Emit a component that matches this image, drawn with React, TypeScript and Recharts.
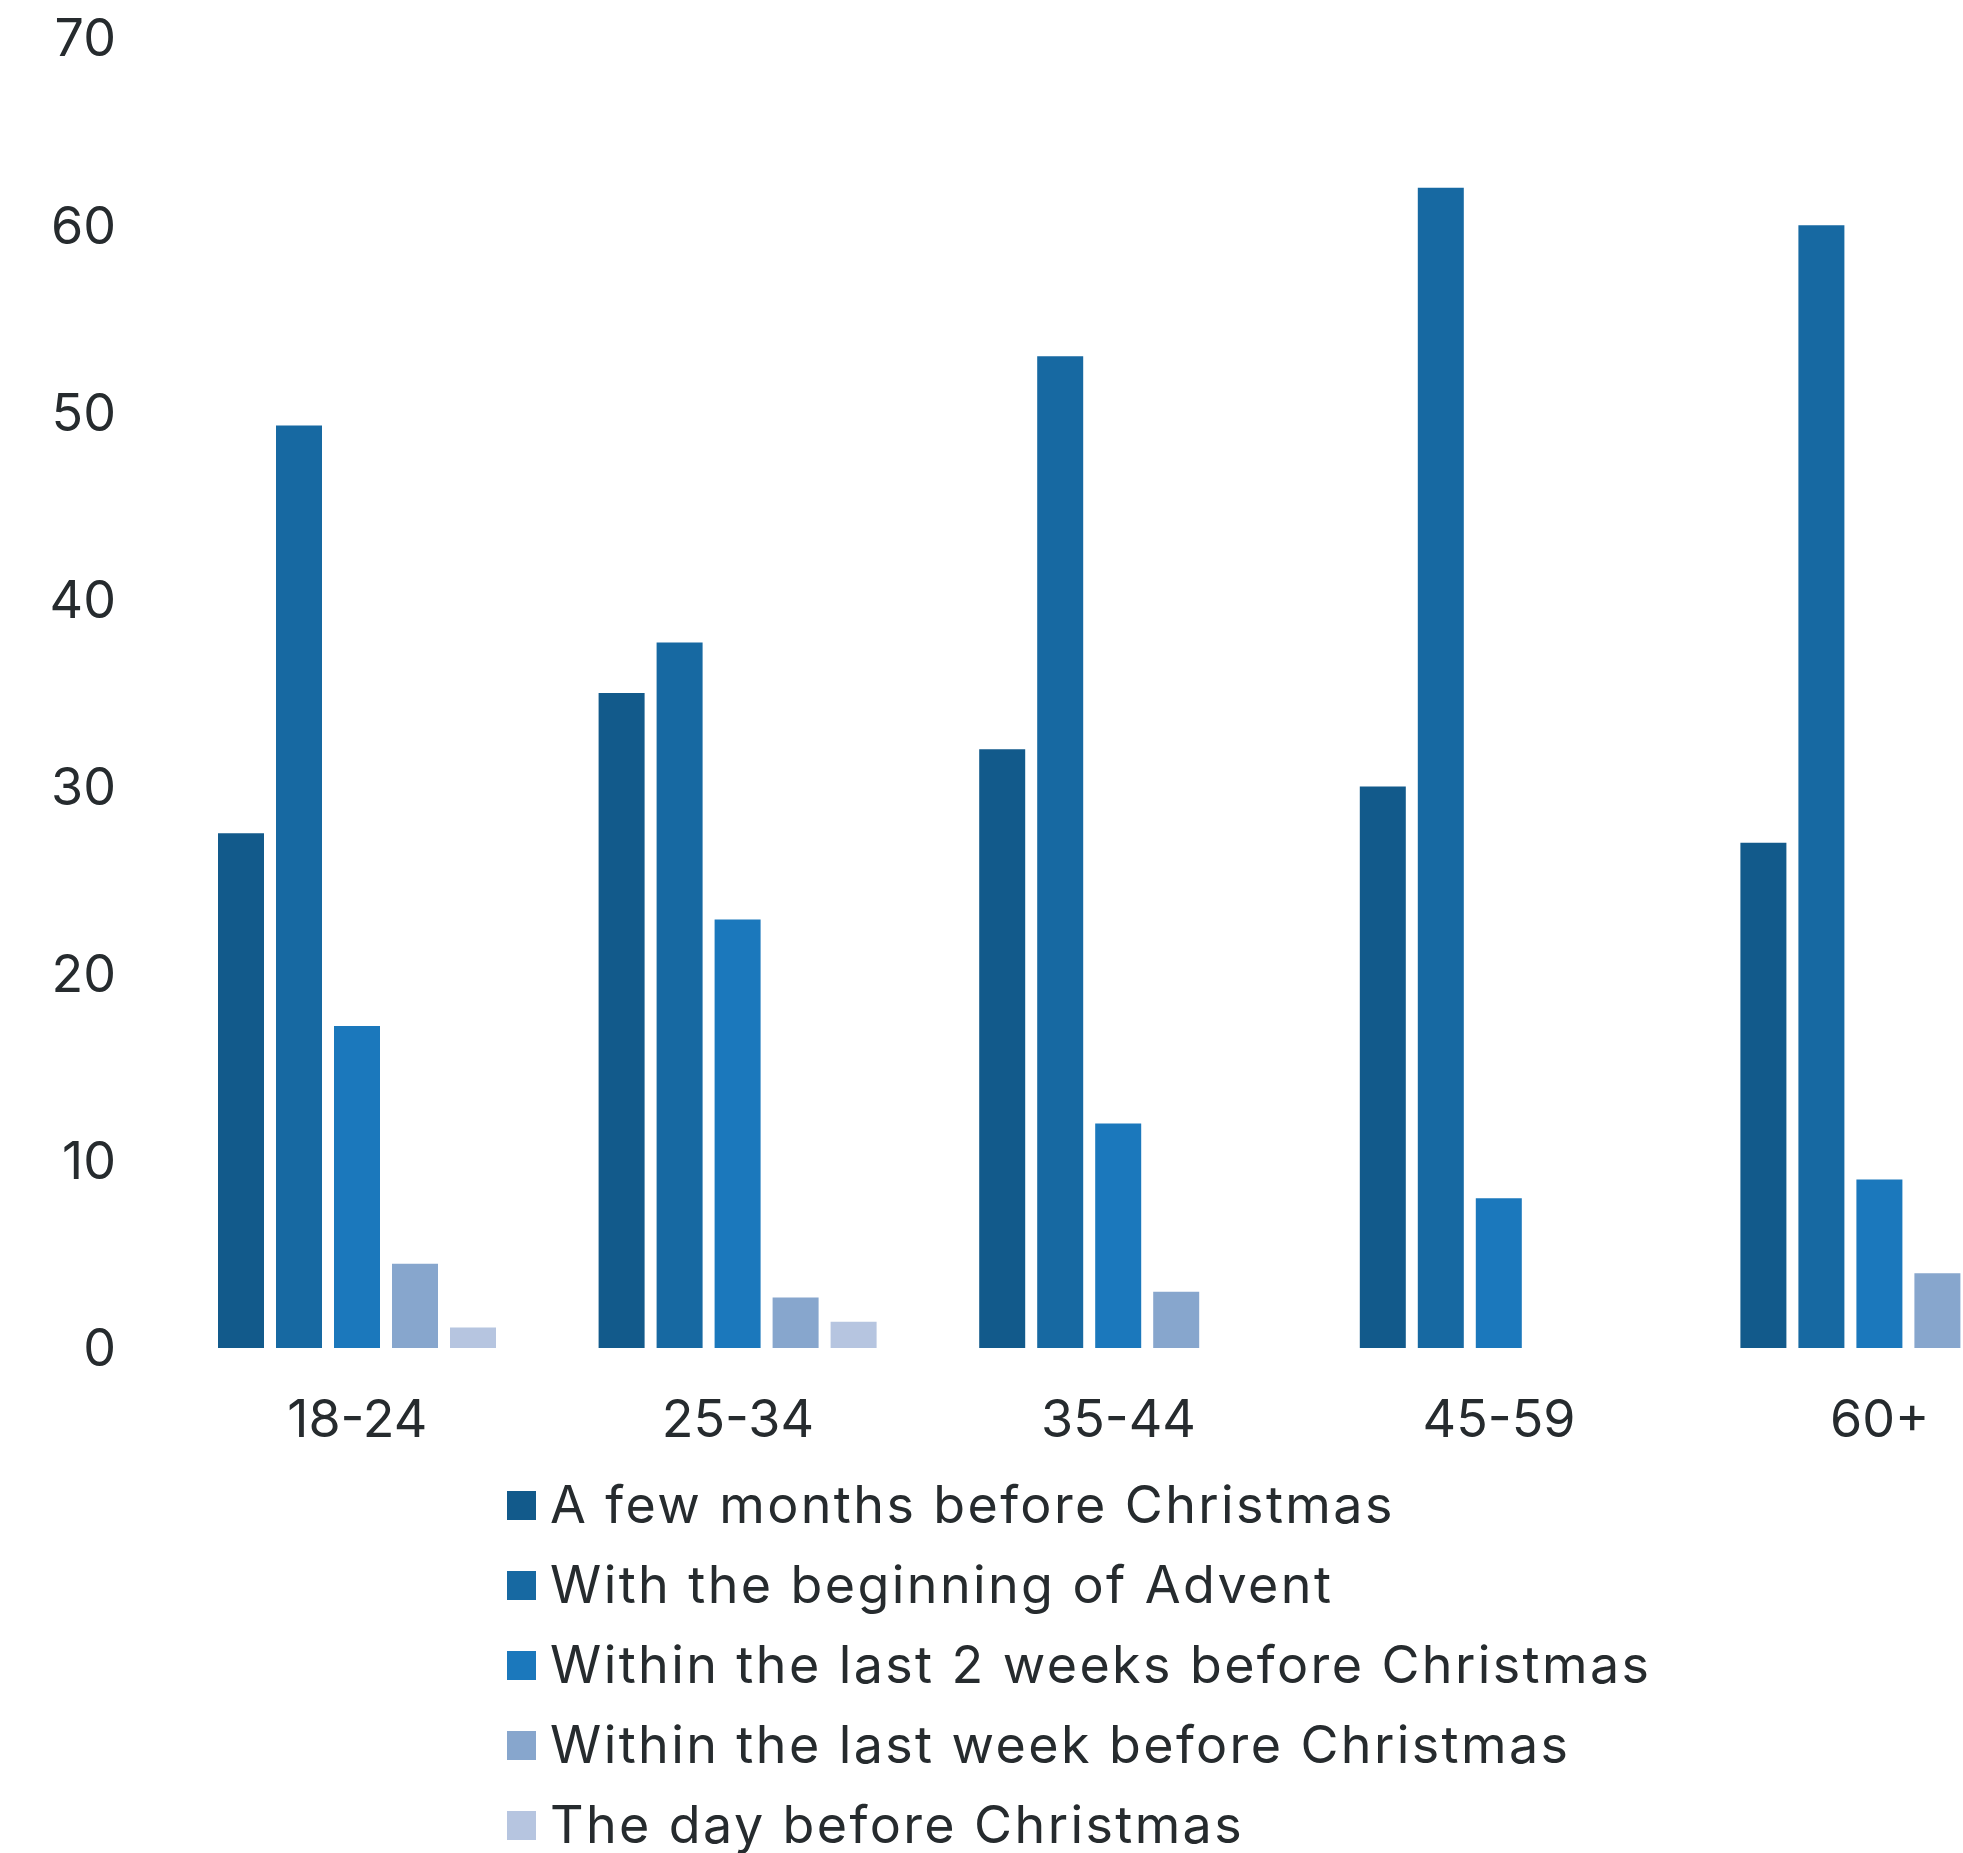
import React from 'react';
import { BarChart, Bar, XAxis, YAxis, Legend } from 'recharts';

const ageGroups = ['18-24', '25-34', '35-44', '45-59', '60+'];

const fewMonths = [27.5, 35, 32, 30, 27];
const adventStart = [49.3, 37.7, 53, 62, 60];
const lastTwoWeeks = [17.2, 22.9, 12, 8, 9];
const lastWeek = [4.5, 2.7, 3, 0, 4];
const dayBefore = [1.1, 1.4, 0, 0, 0];

const yTicks = [0, 10, 20, 30, 40, 50, 60, 70];

const series = [
    { key: 'fewMonths', name: 'A few months before Christmas', color: '#125a8b', values: fewMonths },
    { key: 'adventStart', name: 'With the beginning of Advent', color: '#1769a2', values: adventStart },
    { key: 'lastTwoWeeks', name: 'Within the last 2 weeks before Christmas', color: '#1b78bc', values: lastTwoWeeks },
    { key: 'lastWeek', name: 'Within the last week before Christmas', color: '#87a6cd', values: lastWeek },
    { key: 'dayBefore', name: 'The day before Christmas', color: '#b6c5e0', values: dayBefore },
];

const data = ageGroups.map((group, i) => {
    const row: Record<string, string | number> = { group };
    series.forEach((s) => { row[s.key] = s.values[i]; });
    return row;
});

const TEXT = '#262b2e';
const FONT = 'Inter, "Noto Sans", sans-serif';

const LegendList = () => (
    <div style={{ fontFamily: FONT }}>
        {series.map((s) => (
            <div key={s.key} style={{ display: 'flex', alignItems: 'center', height: 80 }}>
                <span style={{ width: 29, height: 29, background: s.color, marginRight: 14, flexShrink: 0 }} />
                <span style={{ fontSize: 52, letterSpacing: 2.4, color: TEXT, whiteSpace: 'nowrap', lineHeight: 1 }}>{s.name}</span>
            </div>
        ))}
    </div>
);

export default function App() {
    return (
        <div style={{ position: 'absolute', left: 0, top: 0, width: 1963, height: 1853, overflow: 'hidden', background: '#fff' }}>
            <BarChart
                width={2070}
                height={1853}
                data={data}
                margin={{ top: 38, right: 0, bottom: 405, left: 0 }}
                barSize={46}
                barGap={12}
                style={{ fontFamily: FONT }}
            >
                <XAxis
                    dataKey="group"
                    height={100}
                    tickLine={false}
                    axisLine={false}
                    tickMargin={46}
                    tick={{ fill: TEXT, fontSize: 52 }}
                    interval={0}
                />
                <YAxis
                    width={167}
                    domain={[0, 70]}
                    ticks={yTicks}
                    tickLine={false}
                    axisLine={false}
                    tickMargin={45}
                    tick={{ fill: TEXT, fontSize: 52 }}
                />
                <Legend
                    layout="horizontal"
                    verticalAlign="middle"
                    align="center"
                    content={() => <LegendList />}
                    wrapperStyle={{ left: 507, top: 1465, width: 'auto' }}
                />
                {series.map((s) => (
                    <Bar key={s.key} dataKey={s.key} name={s.name} fill={s.color} isAnimationActive={false} />
                ))}
            </BarChart>
        </div>
    );
}
